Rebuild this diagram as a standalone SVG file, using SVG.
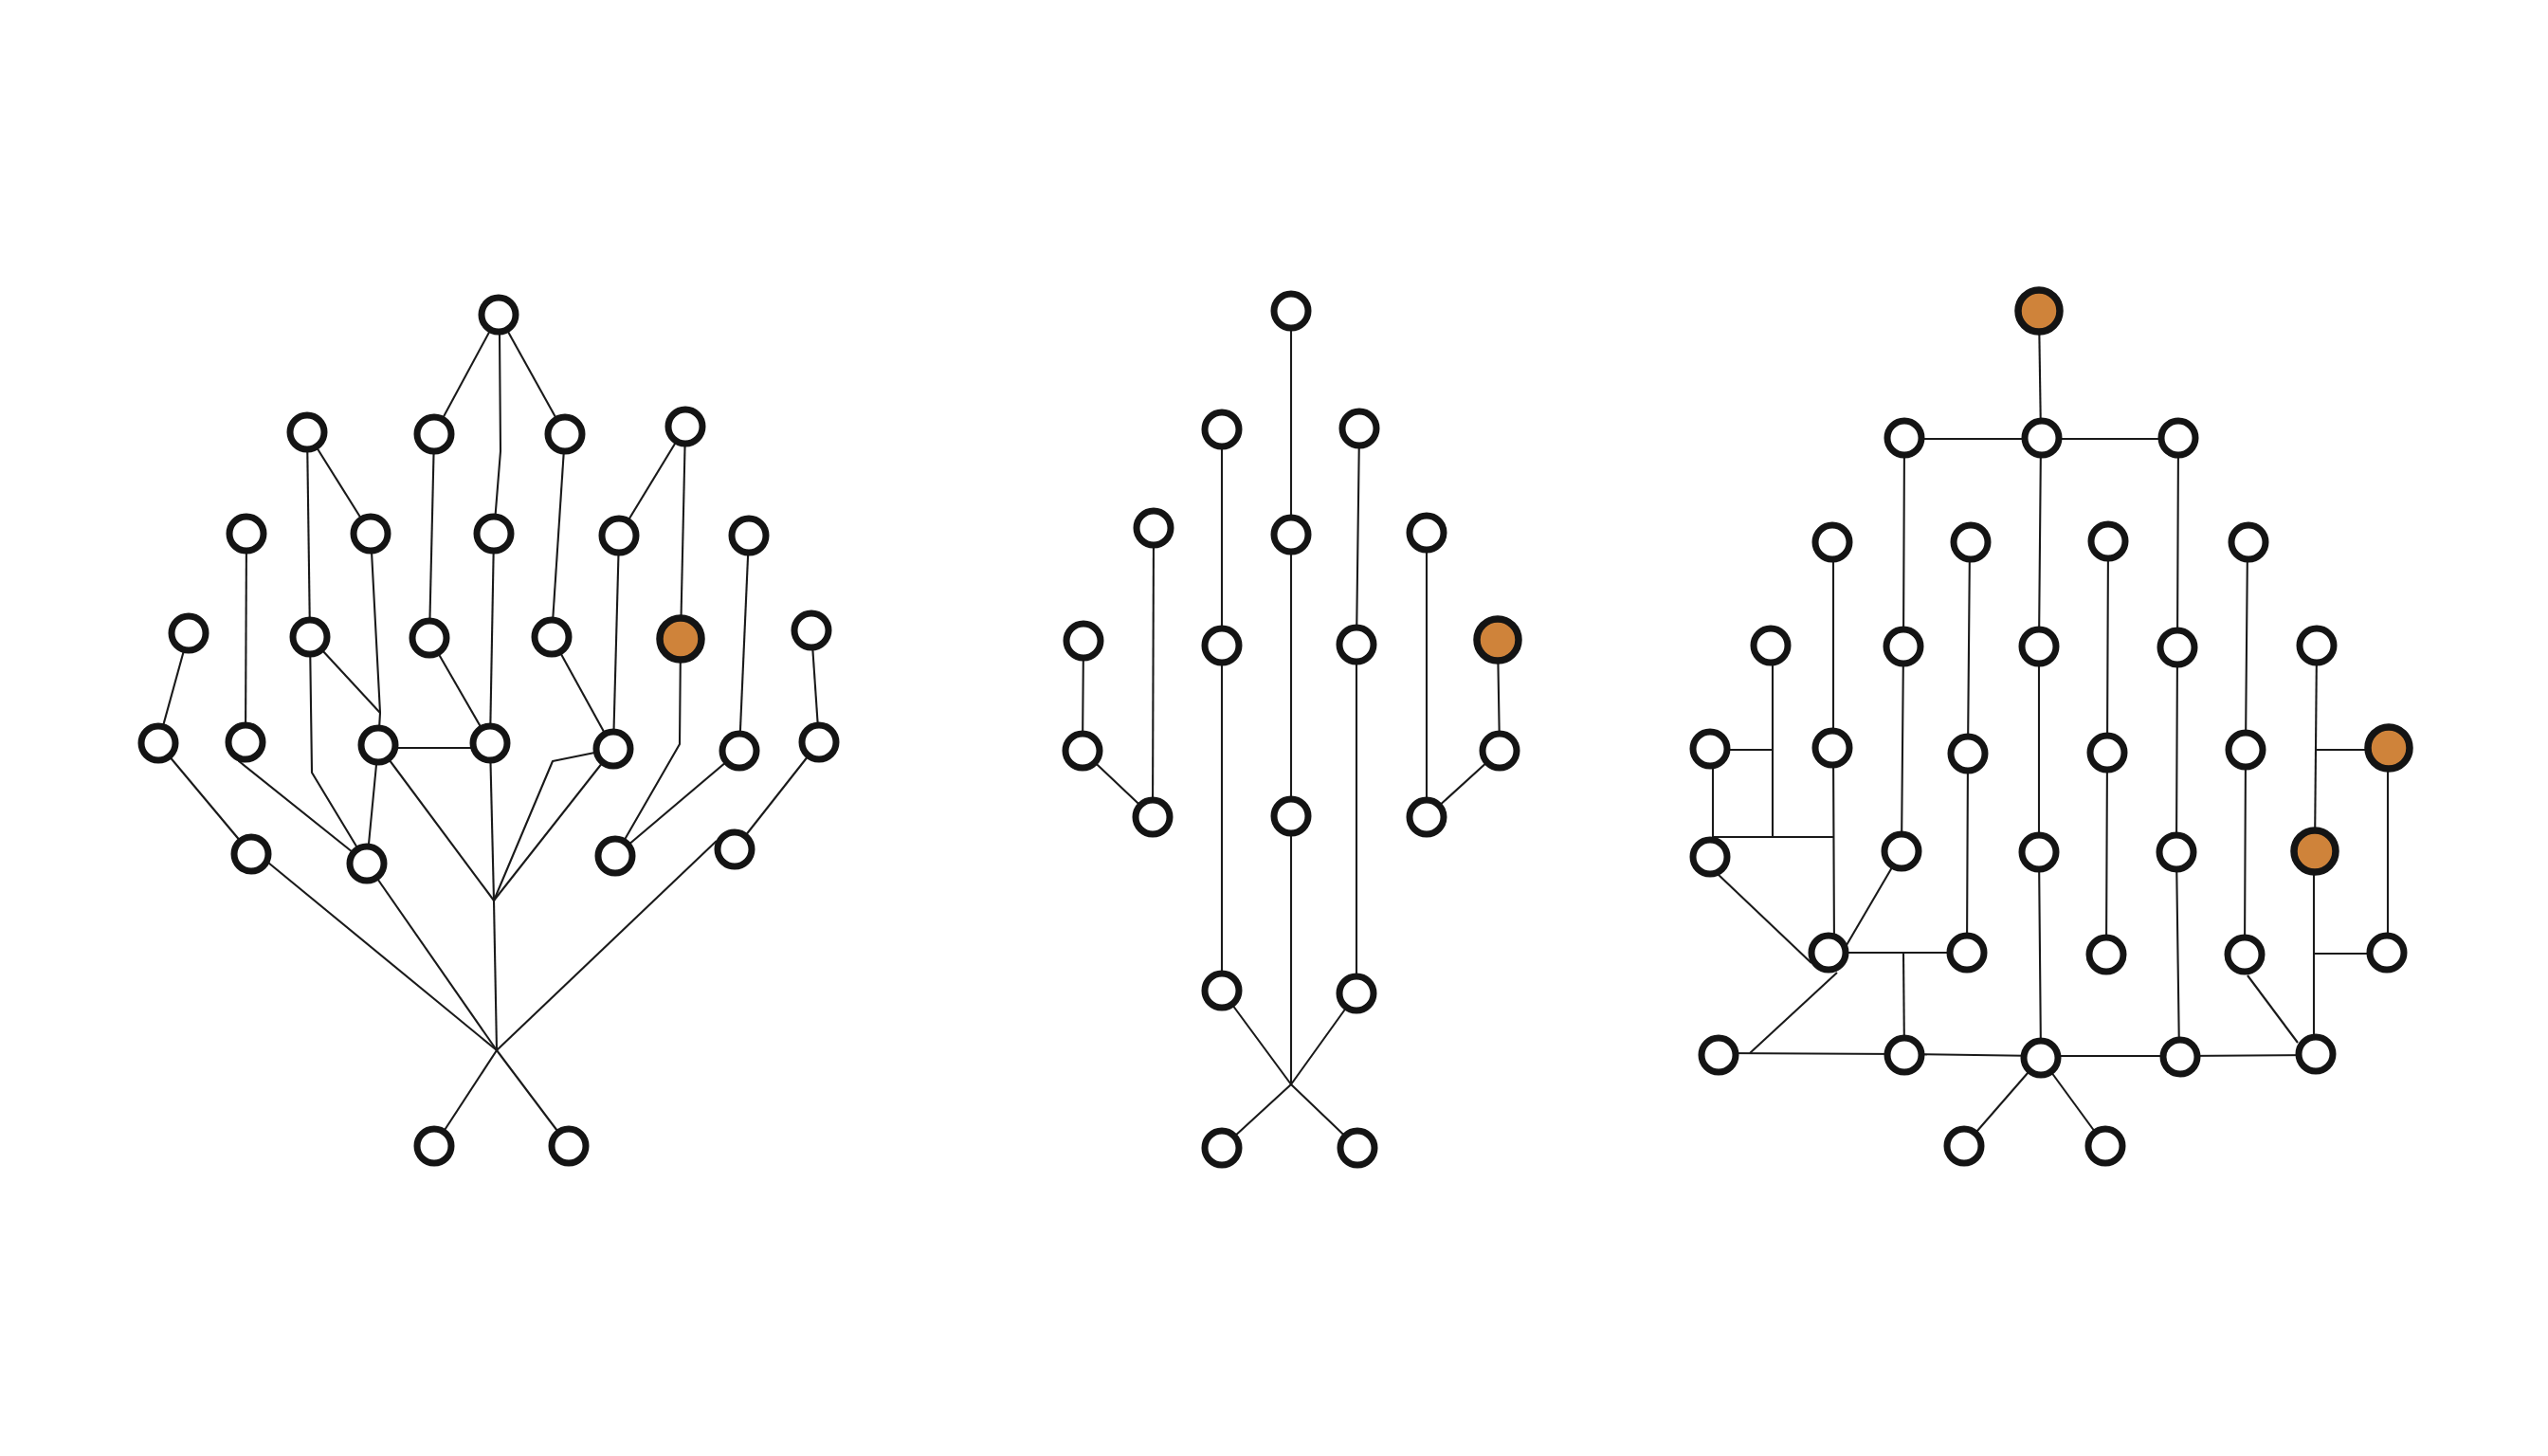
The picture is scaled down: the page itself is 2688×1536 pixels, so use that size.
<svg xmlns="http://www.w3.org/2000/svg" width="2688" height="1536" viewBox="0 0 2688 1536">
<style>
.e{fill:none;stroke:#1a1a1a;stroke-width:2.1;stroke-linejoin:round}
.n{fill:#fff;stroke:#141414;stroke-width:7}
.o{fill:#CF833A;stroke:#141414;stroke-width:7.5}
</style>
<rect width="2688" height="1536" fill="#fff"/>
<g id="connectors">
<g id="left-connectors">
<path class="e" d="M526 332 L458 458"/>
<path class="e" d="M526 332 L596 458"/>
<path class="e" d="M527 352 L528 476 L521 563"/>
<path class="e" d="M324 456 L327 672"/>
<path class="e" d="M324 456 L391 563"/>
<path class="e" d="M458 458 L453 673"/>
<path class="e" d="M596 458 L582 672"/>
<path class="e" d="M723 450 L653 565"/>
<path class="e" d="M723 450 L718 674"/>
<path class="e" d="M260 563 L259 783"/>
<path class="e" d="M391 563 L401 752 L399 786"/>
<path class="e" d="M327 672 L401 752"/>
<path class="e" d="M521 563 L517 784"/>
<path class="e" d="M653 565 L647 790"/>
<path class="e" d="M790 565 L780 792"/>
<path class="e" d="M199 668 L167 784"/>
<path class="e" d="M327 672 L329 815 L387 911"/>
<path class="e" d="M453 673 L517 784"/>
<path class="e" d="M582 672 L647 790"/>
<path class="e" d="M718 674 L717 785 L649 903"/>
<path class="e" d="M856 665 L864 783"/>
<path class="e" d="M399 789 L517 789"/>
<path class="e" d="M399 786 L387 911"/>
<path class="e" d="M399 786 L521 950"/>
<path class="e" d="M517 784 L521 950"/>
<path class="e" d="M647 790 L521 950"/>
<path class="e" d="M521 950 L583 803 L647 790"/>
<path class="e" d="M167 784 L265 901"/>
<path class="e" d="M259 783 L252 803 L387 911"/>
<path class="e" d="M780 792 L649 903"/>
<path class="e" d="M864 783 L775 896"/>
<path class="e" d="M756 887 L524 1108"/>
<path class="e" d="M283 910 L524 1108"/>
<path class="e" d="M387 911 L524 1108"/>
<path class="e" d="M521 950 L524 1108"/>
<path class="e" d="M524 1108 L458 1209"/>
<path class="e" d="M524 1108 L600 1209"/>
</g>
<g id="middle-connectors">
<path class="e" d="M1362 328 L1362 564 L1362 861 L1362 1144"/>
<path class="e" d="M1289 453 L1289 681 L1289 1045"/>
<path class="e" d="M1434 452 L1431 680 L1431 1048"/>
<path class="e" d="M1217 557 L1216 862"/>
<path class="e" d="M1143 676 L1142 792 L1216 862"/>
<path class="e" d="M1505 562 L1505 862"/>
<path class="e" d="M1580 675 L1582 792 L1505 862"/>
<path class="e" d="M1289 1045 L1362 1144 L1432 1211"/>
<path class="e" d="M1431 1048 L1362 1144 L1289 1211"/>
</g>
<g id="right-connectors">
<path class="e" d="M2151 328 L2153 462"/>
<path class="e" d="M2009 463 L2298 463"/>
<path class="e" d="M2009 462 L2008 682 L2006 898"/>
<path class="e" d="M2153 462 L2151 682 L2151 899 L2153 1116"/>
<path class="e" d="M2298 462 L2297 683 L2296 899 L2299 1115"/>
<path class="e" d="M1934 572 L1934 789 L1935 1005"/>
<path class="e" d="M2078 572 L2076 795 L2075 1005"/>
<path class="e" d="M2224 571 L2223 794 L2222 1007"/>
<path class="e" d="M2371 572 L2369 791 L2368 1007"/>
<path class="e" d="M1870 681 L1870 883"/>
<path class="e" d="M1804 791 L1870 791"/>
<path class="e" d="M1807 790 L1807 904"/>
<path class="e" d="M1807 883 L1935 883"/>
<path class="e" d="M1812 922 L1911 1016"/>
<path class="e" d="M2006 898 L1948 997"/>
<path class="e" d="M1938 1026 L1846 1111"/>
<path class="e" d="M1929 1005 L2075 1005"/>
<path class="e" d="M2008 1005 L2009 1113"/>
<path class="e" d="M1813 1111 L2009 1112 L2153 1114 L2300 1114 L2443 1113"/>
<path class="e" d="M2153 1116 L2072 1209"/>
<path class="e" d="M2153 1116 L2221 1209"/>
<path class="e" d="M2444 681 L2442 898"/>
<path class="e" d="M2443 791 L2520 791"/>
<path class="e" d="M2441 898 L2441 1112"/>
<path class="e" d="M2441 1006 L2518 1006"/>
<path class="e" d="M2519 789 L2519 1005"/>
<path class="e" d="M2371 1029 L2424 1100"/>
</g>
</g>
<g id="nodes">
<g id="left-tree">
<g id="L0"><circle class="n" cx="526" cy="332" r="18"/></g>
<g id="L2a"><circle class="n" cx="324" cy="456" r="18"/></g>
<g id="L2b"><circle class="n" cx="458" cy="458" r="18"/></g>
<g id="L2c"><circle class="n" cx="596" cy="458" r="18"/></g>
<g id="L2d"><circle class="n" cx="723" cy="450" r="18"/></g>
<g id="L3a"><circle class="n" cx="260" cy="563" r="18"/></g>
<g id="L3b"><circle class="n" cx="391" cy="563" r="18"/></g>
<g id="L3c"><circle class="n" cx="521" cy="563" r="18"/></g>
<g id="L3d"><circle class="n" cx="653" cy="565" r="18"/></g>
<g id="L3e"><circle class="n" cx="790" cy="565" r="18"/></g>
<g id="L4a"><circle class="n" cx="199" cy="668" r="18"/></g>
<g id="L4b"><circle class="n" cx="327" cy="672" r="18"/></g>
<g id="L4c"><circle class="n" cx="453" cy="673" r="18"/></g>
<g id="L4d"><circle class="n" cx="582" cy="672" r="18"/></g>
<g id="L4e"><circle class="o" cx="718" cy="674" r="22"/></g>
<g id="L4f"><circle class="n" cx="856" cy="665" r="18"/></g>
<g id="L5a"><circle class="n" cx="167" cy="784" r="18"/></g>
<g id="L5b"><circle class="n" cx="259" cy="783" r="18"/></g>
<g id="L5c"><circle class="n" cx="399" cy="786" r="18"/></g>
<g id="L5d"><circle class="n" cx="517" cy="784" r="18"/></g>
<g id="L5e"><circle class="n" cx="647" cy="790" r="18"/></g>
<g id="L5f"><circle class="n" cx="780" cy="792" r="18"/></g>
<g id="L5g"><circle class="n" cx="864" cy="783" r="18"/></g>
<g id="L6a"><circle class="n" cx="265" cy="901" r="18"/></g>
<g id="L6b"><circle class="n" cx="387" cy="911" r="18"/></g>
<g id="L6c"><circle class="n" cx="649" cy="903" r="18"/></g>
<g id="L6d"><circle class="n" cx="775" cy="896" r="18"/></g>
<g id="LB1"><circle class="n" cx="458" cy="1209" r="18"/></g>
<g id="LB2"><circle class="n" cx="600" cy="1209" r="18"/></g>
</g>
<g id="middle-tree">
<g id="M0"><circle class="n" cx="1362" cy="328" r="18"/></g>
<g id="M2a"><circle class="n" cx="1289" cy="453" r="18"/></g>
<g id="M2b"><circle class="n" cx="1434" cy="452" r="18"/></g>
<g id="M3a"><circle class="n" cx="1217" cy="557" r="18"/></g>
<g id="M3b"><circle class="n" cx="1362" cy="564" r="18"/></g>
<g id="M3c"><circle class="n" cx="1505" cy="562" r="18"/></g>
<g id="M4a"><circle class="n" cx="1143" cy="676" r="18"/></g>
<g id="M4b"><circle class="n" cx="1289" cy="681" r="18"/></g>
<g id="M4c"><circle class="n" cx="1431" cy="680" r="18"/></g>
<g id="M4d"><circle class="o" cx="1580" cy="675" r="22"/></g>
<g id="M5a"><circle class="n" cx="1142" cy="792" r="18"/></g>
<g id="M5b"><circle class="n" cx="1582" cy="792" r="18"/></g>
<g id="M6a"><circle class="n" cx="1216" cy="862" r="18"/></g>
<g id="M6b"><circle class="n" cx="1362" cy="861" r="18"/></g>
<g id="M6c"><circle class="n" cx="1505" cy="862" r="18"/></g>
<g id="M7a"><circle class="n" cx="1289" cy="1045" r="18"/></g>
<g id="M7b"><circle class="n" cx="1431" cy="1048" r="18"/></g>
<g id="MB1"><circle class="n" cx="1289" cy="1211" r="18"/></g>
<g id="MB2"><circle class="n" cx="1432" cy="1211" r="18"/></g>
</g>
<g id="right-tree">
<g id="R0"><circle class="o" cx="2151" cy="328" r="22"/></g>
<g id="R2a"><circle class="n" cx="2009" cy="462" r="18"/></g>
<g id="R2b"><circle class="n" cx="2154" cy="462" r="18"/></g>
<g id="R2c"><circle class="n" cx="2298" cy="462" r="18"/></g>
<g id="R3a"><circle class="n" cx="1933" cy="572" r="18"/></g>
<g id="R3b"><circle class="n" cx="2079" cy="572" r="18"/></g>
<g id="R3c"><circle class="n" cx="2224" cy="571" r="18"/></g>
<g id="R3d"><circle class="n" cx="2372" cy="572" r="18"/></g>
<g id="R4a"><circle class="n" cx="1868" cy="681" r="18"/></g>
<g id="R4b"><circle class="n" cx="2008" cy="682" r="18"/></g>
<g id="R4c"><circle class="n" cx="2151" cy="682" r="18"/></g>
<g id="R4d"><circle class="n" cx="2297" cy="683" r="18"/></g>
<g id="R4e"><circle class="n" cx="2444" cy="681" r="18"/></g>
<g id="R5a"><circle class="n" cx="1804" cy="790" r="18"/></g>
<g id="R5b"><circle class="n" cx="1933" cy="789" r="18"/></g>
<g id="R5c"><circle class="n" cx="2076" cy="795" r="18"/></g>
<g id="R5d"><circle class="n" cx="2223" cy="794" r="18"/></g>
<g id="R5e"><circle class="n" cx="2369" cy="791" r="18"/></g>
<g id="R5f"><circle class="o" cx="2520" cy="789" r="22"/></g>
<g id="R6a"><circle class="n" cx="1804" cy="904" r="18"/></g>
<g id="R6b"><circle class="n" cx="2006" cy="898" r="18"/></g>
<g id="R6c"><circle class="n" cx="2151" cy="899" r="18"/></g>
<g id="R6d"><circle class="n" cx="2296" cy="899" r="18"/></g>
<g id="R6e"><circle class="o" cx="2442" cy="898" r="22"/></g>
<g id="R7a"><circle class="n" cx="1929" cy="1005" r="18"/></g>
<g id="R7b"><circle class="n" cx="2075" cy="1005" r="18"/></g>
<g id="R7c"><circle class="n" cx="2222" cy="1007" r="18"/></g>
<g id="R7d"><circle class="n" cx="2368" cy="1007" r="18"/></g>
<g id="R7e"><circle class="n" cx="2518" cy="1005" r="18"/></g>
<g id="R8a"><circle class="n" cx="1813" cy="1113" r="18"/></g>
<g id="R8b"><circle class="n" cx="2009" cy="1113" r="18"/></g>
<g id="R8c"><circle class="n" cx="2153" cy="1116" r="18"/></g>
<g id="R8d"><circle class="n" cx="2300" cy="1115" r="18"/></g>
<g id="R8e"><circle class="n" cx="2443" cy="1112" r="18"/></g>
<g id="RB1"><circle class="n" cx="2072" cy="1209" r="18"/></g>
<g id="RB2"><circle class="n" cx="2221" cy="1209" r="18"/></g>
</g>
</g>
</svg>
